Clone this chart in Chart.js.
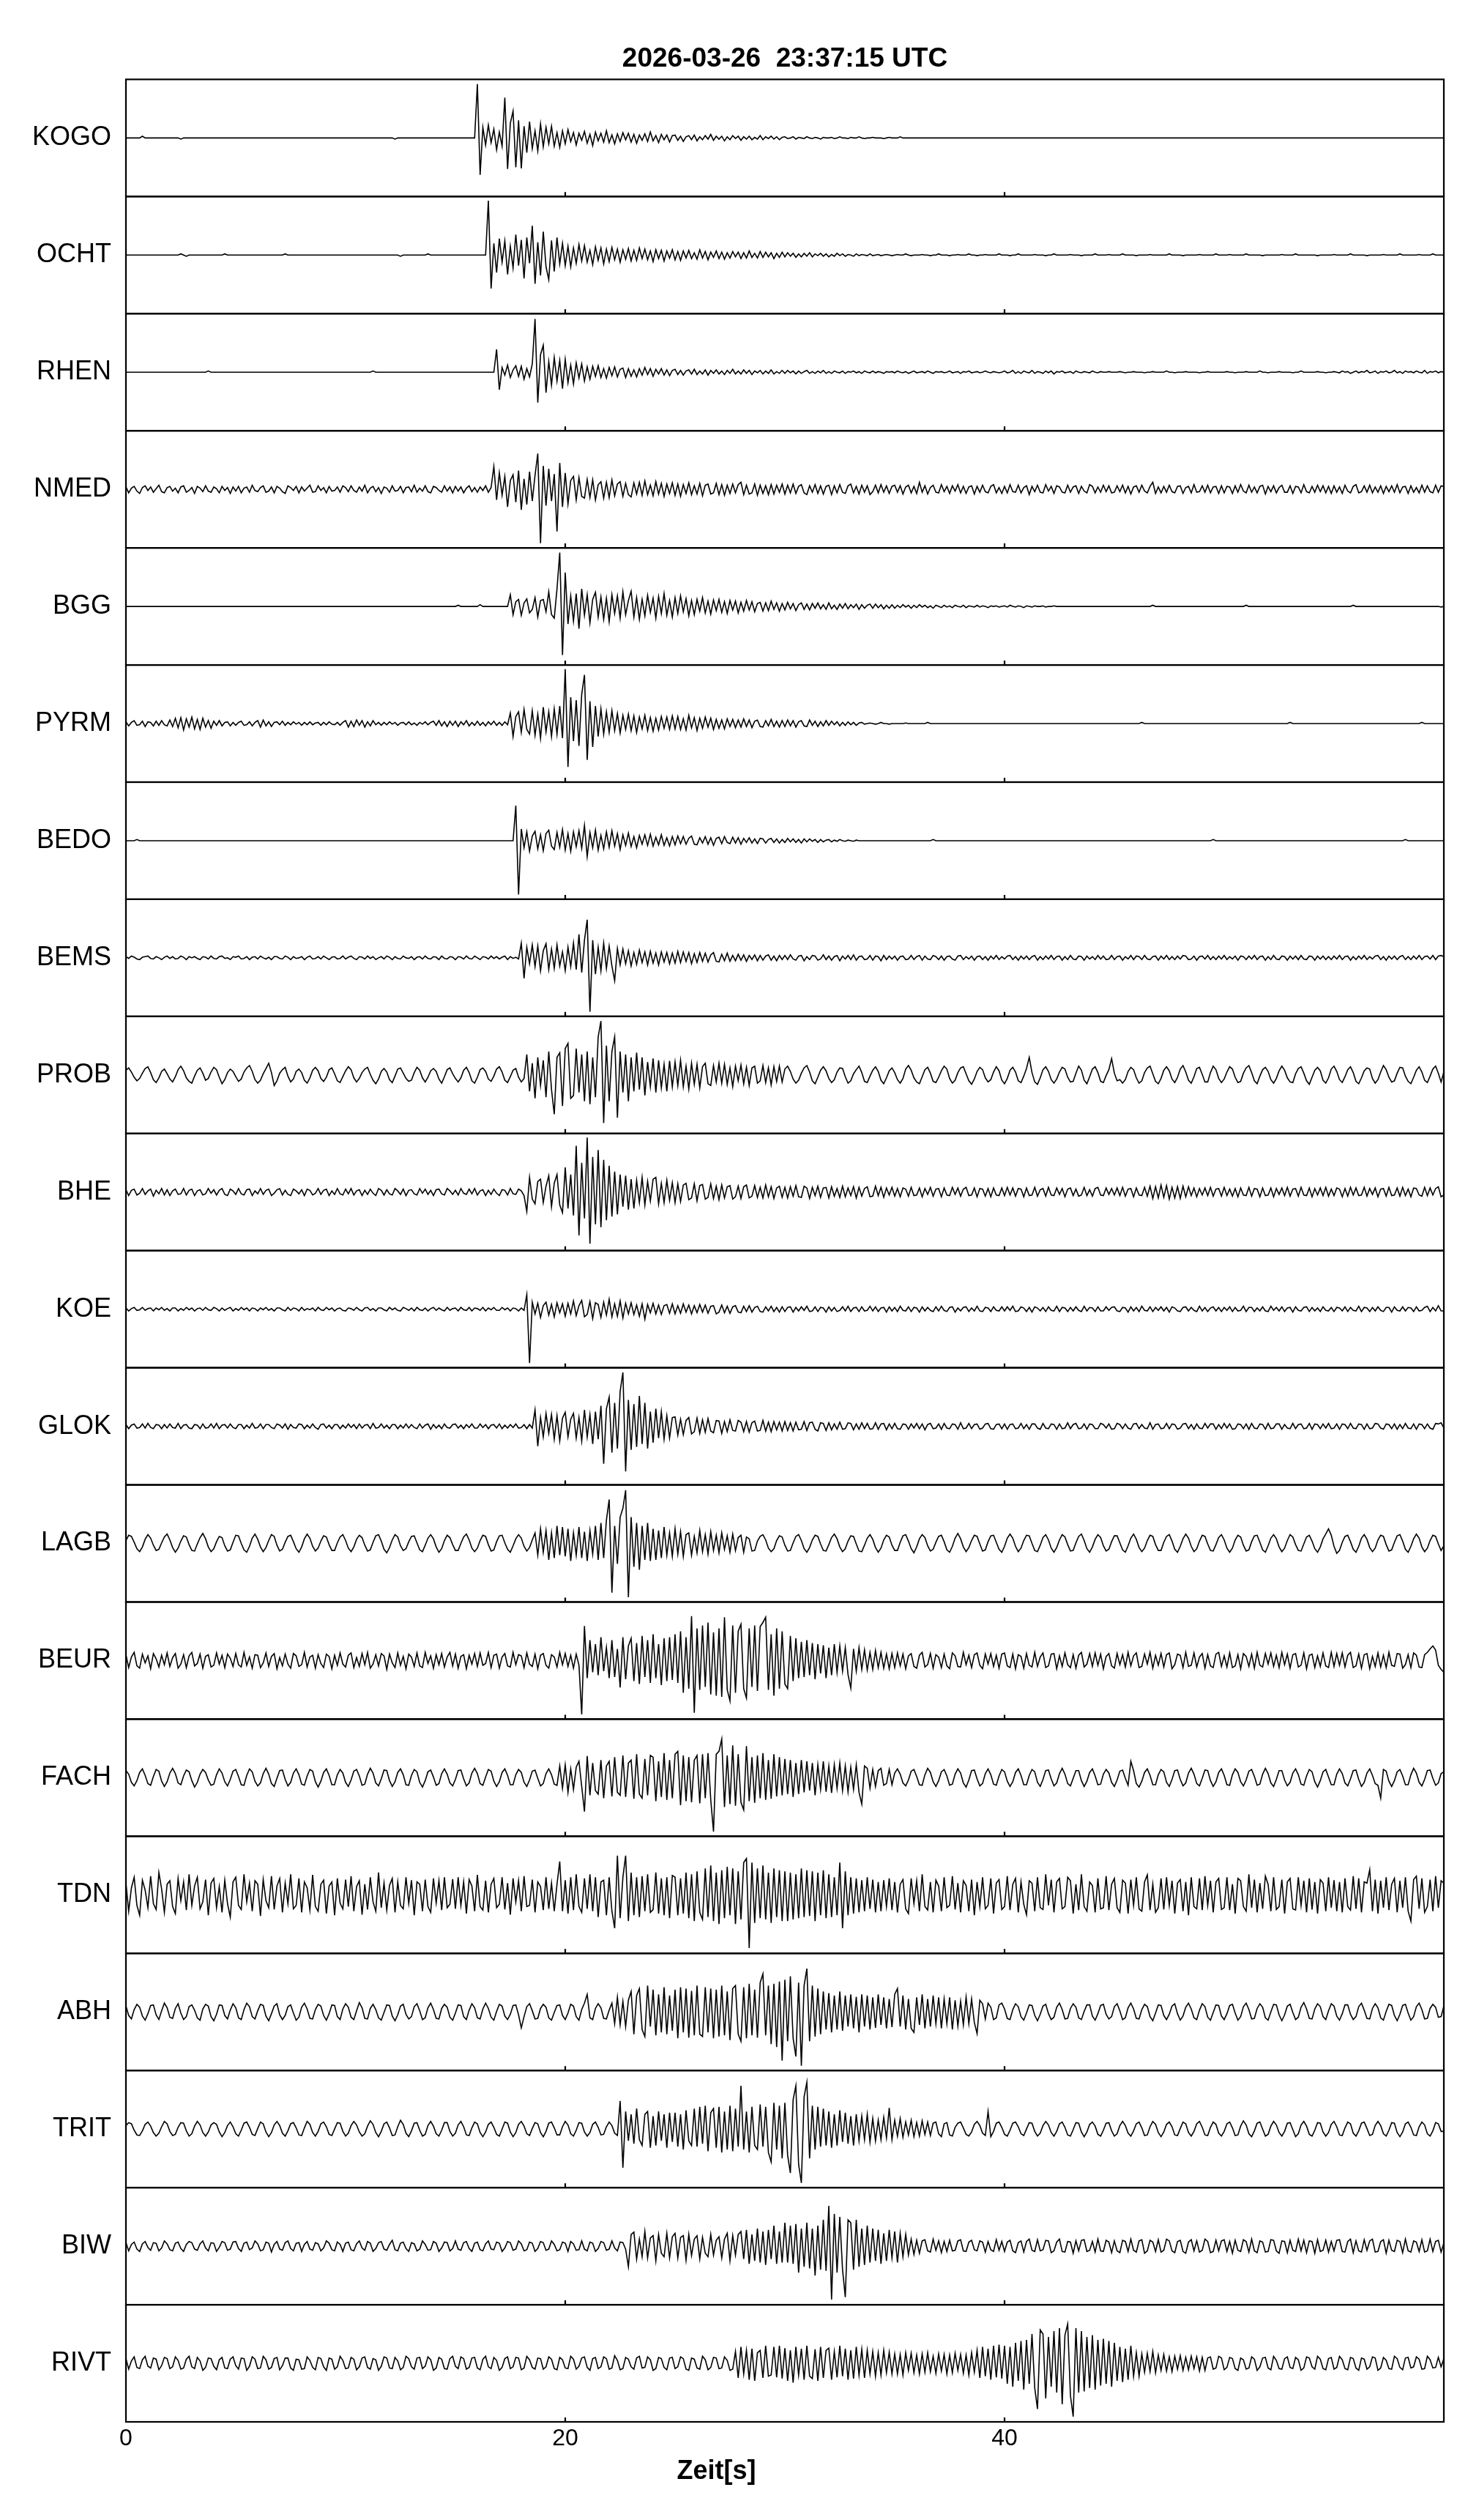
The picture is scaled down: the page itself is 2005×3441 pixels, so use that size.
<!DOCTYPE html>
<html>
<head>
<meta charset="utf-8">
<title>Seismogramm 2026-03-26 23:37:15 UTC</title>
<script src="https://cdn.jsdelivr.net/npm/chart.js@4/dist/chart.umd.min.js"></script>
<style>
  html, body { margin: 0; padding: 0; background: #fff; }
  canvas { display: block; }
</style>
</head>
<body>
<canvas id="seis" width="2005" height="3441"></canvas>
<script>
// Stationen von oben nach unten
var STATIONS = ['KOGO','OCHT','RHEN','NMED','BGG','PYRM','BEDO','BEMS','PROB','BHE',
                'KOE','GLOK','LAGB','BEUR','FACH','TDN','ABH','TRIT','BIW','RIVT'];
var SPAN = 60;            // Sekunden
var X_TICKS = [0, 20, 40];
var TITLE = '2026-03-26  23:37:15 UTC';
var X_LABEL = 'Zeit[s]';

// Amplituden in % der halben Spurhoehe, alle 0.125 s (eine Zeile = 5 s)
var KOGO = [
  0,0,0,0,0,0,3,0, 0,0,0,0,0,0,0,0, 0,0,0,0,-2,0,0,0, 0,0,0,0,0,0,0,0, 0,0,0,0,0,0,0,0,
  0,0,0,0,0,0,0,0, 0,0,0,0,0,0,0,0, 0,0,0,0,0,0,0,0, 0,0,0,0,0,0,0,0, 0,0,0,0,0,0,0,0,
  0,0,0,0,0,0,0,0, 0,0,0,0,0,0,0,0, 0,0,-2,0,0,0,0,0, 0,0,0,0,0,0,0,0, 0,0,0,0,0,0,0,0,
  0,0,0,0,0,0,0,0, 92,-63,18,-12,22,-8,15,-20, 10,-14,69,-53,25,46,-50,30, -52,20,-25,28,-18,12,-22,24, -15,18,-10,20,-14,9,-16,12,
  -10,14,-6,9,-12,8,-4,11, -9,6,-13,10,-5,8,-7,12, -8,5,-10,7,-6,9,-3,8, -7,6,-9,5,-4,7,-6,10, -5,4,-8,6,-3,5,-7,4,
  5,-4,3,-6,2,4,-3,5, -5,2,-3,4,-2,6,-4,3, -2,3,-5,2,-3,4,-1,3, -4,2,-2,3,-3,1,-2,4, -3,2,-1,3,-2,2,-3,1,
  2,-1,0,2,-2,1,0,-1, 2,0,-1,1,0,-2,1,0, 0,1,-1,0,2,0,0,-1, 1,0,0,2,0,-1,0,0, 1,0,0,0,-1,0,1,0,
  0,0,2,0,0,0,0,0, 0,0,0,0,0,0,0,0, 0,0,0,0,0,0,0,0, 0,0,0,0,0,0,0,0, 0,0,0,0,0,0,0,0,
  0,0,0,0,0,0,0,0, 0,0,0,0,0,0,0,0, 0,0,0,0,0,0,0,0, 0,0,0,0,0,0,0,0, 0,0,0,0,0,0,0,0,
  0,0,0,0,0,0,0,0, 0,0,0,0,0,0,0,0, 0,0,0,0,0,0,0,0, 0,0,0,0,0,0,0,0, 0,0,0,0,0,0,0,0,
  0,0,0,0,0,0,0,0, 0,0,0,0,0,0,0,0, 0,0,0,0,0,0,0,0, 0,0,0,0,0,0,0,0, 0,0,0,0,0,0,0,0,
  0,0,0,0,0,0,0,0, 0,0,0,0,0,0,0,0, 0,0,0,0,0,0,0,0, 0,0,0,0,0,0,0,0, 0,0,0,0,0,0,0,0,
  0];
var OCHT = [
  0,0,0,0,0,0,0,0, 0,0,0,0,0,0,0,0, 0,0,0,0,2,0,-2,0, 0,0,0,0,0,0,0,0, 0,0,0,0,2,0,0,0,
  0,0,0,0,0,0,0,0, 0,0,0,0,0,0,0,0, 0,0,2,0,0,0,0,0, 0,0,0,0,0,0,0,0, 0,0,0,0,0,0,0,0,
  0,0,0,0,0,0,0,0, 0,0,0,0,0,0,0,0, 0,0,0,0,-2,0,0,0, 0,0,0,0,0,0,2,0, 0,0,0,0,0,0,0,0,
  0,0,0,0,0,0,0,0, 0,0,0,0,93,-57,20,-30, 28,-12,24,-33,15,-22,35,-18, 26,-40,30,-14,50,-49,22,-35, 40,-20,-42,25,-28,30,-15,20,
  -18,15,-20,12,-14,18,-10,16, -12,8,-16,14,-9,12,-15,10, -11,13,-8,10,-12,9,-7,11, -10,8,-9,12,-6,10,-8,7, -11,9,-6,8,-10,7,-5,9,
  -8,6,-9,7,-5,8,-6,4, -7,9,-5,6,-8,5,-4,7, -6,5,-7,4,-5,6,-3,5, -6,4,-5,7,-4,3,-5,6, -4,5,-3,4,-6,3,-4,5,
  -3,4,-2,3,-4,2,-3,3, -2,4,-3,2,-1,3,-2,2, -3,1,-2,3,-1,2,-2,1, 0,-2,2,-1,1,0,-1,2, -1,0,1,-1,0,1,0,-1,
  0,1,0,0,2,0,-1,0, 0,0,1,0,0,-1,0,0, 2,0,0,0,-1,0,0,1, 0,0,0,2,0,0,-1,0, 0,1,0,0,0,0,2,0,
  0,0,-1,0,0,2,0,0, 0,0,0,1,0,0,0,-1, 0,0,2,0,0,0,0,0, 1,0,0,0,-1,0,0,0, 0,2,0,0,0,0,1,0,
  0,0,0,2,0,0,0,0, -1,0,0,0,0,1,0,0, 0,0,0,0,2,0,0,0, 0,-1,0,0,0,0,0,1, 0,0,0,0,0,2,0,0,
  0,0,1,0,0,0,0,0, 2,0,0,0,0,0,-1,0, 0,0,0,0,0,1,0,0, 0,0,2,0,0,0,0,0, 0,0,-1,0,0,0,0,0,
  1,0,0,0,0,0,2,0, 0,0,0,0,-1,0,0,0, 0,0,1,0,0,0,0,0, 2,0,0,0,0,0,0,1, 0,0,0,0,2,0,0,0,
  0];
var RHEN = [
  0,0,0,0,0,0,0,0, 0,0,0,0,0,0,0,0, 0,0,0,0,0,0,0,0, 0,0,0,0,0,0,2,0, 0,0,0,0,0,0,0,0,
  0,0,0,0,0,0,0,0, 0,0,0,0,0,0,0,0, 0,0,0,0,0,0,0,0, 0,0,0,0,0,0,0,0, 0,0,0,0,0,0,0,0,
  0,0,0,0,0,0,0,0, 0,0,2,0,0,0,0,0, 0,0,0,0,0,0,0,0, 0,0,0,0,0,0,0,0, 0,0,0,0,0,0,0,0,
  0,0,0,0,0,0,0,0, 0,0,0,0,0,0,0,39, -30,8,-5,12,-9,4,11,-7, 10,-12,6,-8,14,91,-52,30, 46,-35,18,-22,25,-15,20,-28,
  22,-18,12,-20,16,-10,14,-15, 9,-12,10,-7,11,-9,6,-10, 8,-6,9,-8,5,7,-9,6, -7,4,-8,6,-5,8,-4,6, -7,5,-3,6,-5,4,-6,3,
  5,-4,3,-5,2,4,-3,5, -4,2,-3,4,-5,3,-2,4, -3,2,-4,3,-2,5,-3,2, -3,4,-2,3,-4,2,-1,3, -3,2,-2,4,-3,1,-2,3,
  -2,3,-1,2,-3,2,-2,1, 3,-2,1,-2,2,-1,3,-2, 1,-2,2,0,-1,2,-2,1, 0,2,-1,1,-2,2,0,-1, 2,-1,1,0,-2,1,0,1,
  -1,2,0,-1,1,-2,0,2, -1,0,1,-1,2,0,-2,1, 0,1,-1,0,2,-1,0,1, -2,1,0,2,-1,0,1,-1, 0,2,0,-1,1,0,-1,0,
  2,-1,0,3,-2,1,-2,2, 0,-1,3,-2,1,0,-2,2, -1,2,-3,1,0,2,-1,0, 1,-2,2,0,-1,1,0,-1, 2,0,-1,1,0,0,1,0,
  0,0,1,0,-1,0,0,1, 0,0,0,-1,0,0,1,0, 0,0,0,2,0,0,-1,0, 0,0,1,0,0,0,0,-1, 0,0,1,0,0,0,0,0,
  0,1,0,0,-1,0,0,0, 1,0,0,0,0,2,0,0, -1,0,0,0,1,0,0,0, 0,-1,0,0,2,0,0,0, 0,0,1,0,0,-1,0,0,
  1,0,-1,2,0,1,-2,0, 2,-1,1,0,3,-1,0,2, -2,1,0,2,-1,0,3,-1, 1,-2,2,0,1,-1,2,0, -1,3,-2,1,0,2,-1,1,
  0];
var NMED = [
  4,-6,2,5,-3,-7,3,6, -2,4,-5,1,7,-4,-6,3, 5,-3,2,-6,4,6,-5,-2, 3,-7,5,2,-4,6,-3,-5, 4,1,-6,5,-2,3,-7,4,
  -3,5,-6,2,4,-5,7,-2, -4,3,6,-5,-3,4,-6,5, 2,-4,-7,6,3,-2,5,-6, 4,-3,2,7,-5,-4,6,-2, 3,-6,5,-3,-2,4,-5,6,
  3,-4,6,-2,-5,4,-3,7, -6,2,5,-4,3,-7,4,2, -5,6,-3,-2,5,-6,3,4, -4,7,-5,2,-3,6,-4,-6, 5,3,-2,-5,6,-3,4,-6,
  5,-3,4,-6,2,6,-4,3, -5,4,-2,6,-5,3,39,-18, 28,-10,22,-30,15,25,-22,32, -35,18,-26,30,-20,24,61,-92, 40,-28,35,-20,26,-72,45,-30,
  28,-25,15,22,-18,20,-12,-15, 17,-14,16,-18,8,13,-15,12, -14,16,-11,9,13,-12,10,-9, -13,11,-8,12,-10,14,-9,7, -11,13,-8,10,-12,9,-7,11,
  -10,9,-12,8,-7,11,-9,6, -8,10,-11,7,9,-8,-6,10, -9,8,-10,7,-7,9,-6,8, 12,-9,7,-8,-6,9,-10,7, -7,6,-9,8,-8,7,-5,9,
  -8,7,-6,9,-7,5,8,-6, -9,6,-5,8,-7,6,-8,5, 7,-9,6,-6,8,-5,-7,6, 9,-6,5,-8,7,-5,6,-9, -4,7,-6,8,-5,6,-7,5,
  7,-5,6,-8,4,7,-6,5, -7,12,-5,6,-8,3,7,-5, -6,8,-4,5,-7,6,-3,8, -6,5,-7,4,6,-8,5,-5, 7,-4,-6,5,8,-6,3,-7,
  5,-6,8,-4,-5,7,-6,3, 6,-9,5,-4,7,-5,-6,8, -3,5,-7,6,4,-5,-6,7, -5,4,6,-7,5,-3,-6,8, 5,-6,4,-5,7,-4,6,-6,
  -5,6,-4,7,-6,5,-8,4, 6,-5,7,-3,-6,5,12,-7, 4,-6,5,-5,7,-4,-6,5, 6,-7,3,5,-6,8,-5,-4, 6,-5,7,-6,4,5,-7,6,
  -6,5,4,-7,6,-5,8,-3, -6,7,-5,4,-6,5,7,-8, 5,-4,6,-6,3,7,-5,-5, 6,-7,5,4,-6,8,-4,-6, 5,-5,7,-4,6,-6,5,-7,
  6,-5,4,-7,7,-3,-6,5, 8,-6,-4,6,-5,7,-6,4, -5,6,-7,5,-4,6,-5,8, -6,4,5,-7,6,-5,3,-6, 7,-5,6,-4,-6,7,-5,6,
  5];
var BGG = [
  0,0,0,0,0,0,0,0, 0,0,0,0,0,0,0,0, 0,0,0,0,0,0,0,0, 0,0,0,0,0,0,0,0, 0,0,0,0,0,0,0,0,
  0,0,0,0,0,0,0,0, 0,0,0,0,0,0,0,0, 0,0,0,0,0,0,0,0, 0,0,0,0,0,0,0,0, 0,0,0,0,0,0,0,0,
  0,0,0,0,0,0,0,0, 0,0,0,0,0,0,0,0, 0,0,0,0,0,0,0,0, 0,0,0,0,0,0,0,0, 0,0,0,0,0,0,0,0,
  0,2,0,0,0,0,0,0, 0,3,0,0,0,0,0,0, 0,0,0,0,20,-14,8,12, -15,6,13,-11,-5,15,-18,10, 12,-9,25,-14,-20,30,92,-83,
  58,-30,18,-25,22,-38,30,-15, 20,-28,12,24,-18,16,-22,14, -26,20,-12,18,-20,25,-14,10, 26,-18,15,-22,12,-16,19,-10, 14,-20,17,-12,22,-15,10,-18,
  15,-12,18,-9,13,-16,10,-14, 12,-8,15,-11,9,-13,11,-7, 12,-10,8,-12,10,-6,9,-11, 7,-8,10,-6,8,-9,5,7, -8,6,-7,9,-5,6,-8,5,
  -6,7,-4,5,-7,3,6,-5, 4,-6,5,-3,6,-4,3,-5, 6,-4,2,-5,4,-3,5,-4, 3,-2,4,-5,3,-3,2,4, -3,4,-2,3,-4,2,-3,3,
  -3,2,-2,3,-1,2,-3,2, -2,3,-1,2,-2,1,-3,2, 0,-2,2,-1,1,-2,2,0, -1,2,-2,1,0,-1,2,-1, 1,0,-2,1,0,1,-1,0,
  1,-1,2,0,-1,1,0,-2, 1,0,-1,1,0,0,1,-1, 0,0,1,0,0,0,0,0, 0,0,0,0,0,0,0,0, 0,0,0,0,0,0,0,0,
  0,0,0,0,0,0,0,0, 0,0,0,0,0,0,2,0, 0,0,0,0,0,0,0,0, 0,0,0,0,0,0,0,0, 0,0,0,0,0,0,0,0,
  0,0,0,0,0,0,0,0, 2,0,0,0,0,0,0,0, 0,0,0,0,0,0,0,0, 0,0,0,0,0,0,0,0, 0,0,0,0,0,0,0,0,
  0,0,0,0,0,0,0,2, 0,0,0,0,0,0,0,0, 0,0,0,0,0,0,0,0, 0,0,0,0,0,0,0,0, 0,0,0,0,0,0,0,-1,
  0];
var PYRM = [
  3,-4,2,5,-3,-2,4,-5, 3,2,-4,4,-3,5,-2,-4, 6,-5,9,-7,10,-11,8,-6, 11,-9,7,-10,9,-6,5,-8, 4,-3,5,-4,2,3,-4,2,
  -3,2,4,-3,-2,3,-4,2, 5,-6,6,-4,3,-5,2,3, -2,4,-3,2,-2,3,-1,2, -3,2,-2,3,-2,1,2,-3, 2,-2,3,-1,-2,2,-3,2,
  5,-6,4,-5,6,-3,5,-6, 3,-4,5,-2,2,-3,2,-2, 3,-1,2,-3,1,2,-2,3, -2,1,-3,2,-1,3,-2,2, 4,-3,5,-4,3,-5,4,-3,
  4,-5,3,-2,5,-4,2,-3, 4,-3,2,-4,3,-2,4,-3, 2,-3,3,-2,18,-22,12,20, -15,24,-10,-18,22,-20,16,-25, 28,-14,20,-22,25,-18,30,-25,
  93,-74,45,-30,40,-38,50,83, -62,38,-40,30,-22,25,-18,20, -15,22,-12,17,-16,14,-10,16, -12,13,-15,11,-9,14,-12,10, -13,9,-11,12,-8,11,-10,13,
  -9,12,-10,8,-11,14,-7,10, -12,9,-8,11,-6,9,-10,7, -8,6,-9,8,-5,7,-7,6, -6,8,-5,6,-7,4,6,-5, -6,5,-4,7,-5,4,-6,5,
  -5,6,-4,5,-6,3,5,-4, -5,6,-3,4,-5,3,-4,5, -3,4,-2,3,-4,2,-3,3, -2,2,-3,1,2,-1,0,1, 0,-1,0,2,0,0,-1,0,
  0,0,0,0,1,0,0,0, 0,0,0,0,2,0,0,0, 0,0,0,0,0,0,0,0, 0,0,0,0,0,0,0,0, 0,0,0,0,0,0,0,0,
  0,0,0,0,0,0,0,0, 0,0,0,0,0,0,0,0, 0,0,0,0,0,0,0,0, 0,0,0,0,0,0,0,0, 0,0,0,0,0,0,0,0,
  0,0,0,0,0,0,0,0, 0,0,2,0,0,0,0,0, 0,0,0,0,0,0,0,0, 0,0,0,0,0,0,0,0, 0,0,0,0,0,0,0,0,
  0,0,0,0,0,0,0,0, 0,0,0,0,0,0,0,0, 0,0,0,0,0,0,0,0, 2,0,0,0,0,0,0,0, 0,0,0,0,0,0,0,0,
  0,0,0,0,0,0,0,0, 0,0,0,0,0,0,0,0, 0,0,0,0,0,0,0,0, 0,0,0,0,0,0,0,0, 2,0,0,0,0,0,0,0,
  0];
var BEDO = [
  0,0,0,0,2,0,0,0, 0,0,0,0,0,0,0,0, 0,0,0,0,0,0,0,0, 0,0,0,0,0,0,0,0, 0,0,0,0,0,0,0,0,
  0,0,0,0,0,0,0,0, 0,0,0,0,0,0,0,0, 0,0,0,0,0,0,0,0, 0,0,0,0,0,0,0,0, 0,0,0,0,0,0,0,0,
  0,0,0,0,0,0,0,0, 0,0,0,0,0,0,0,0, 0,0,0,0,0,0,0,0, 0,0,0,0,0,0,0,0, 0,0,0,0,0,0,0,0,
  0,0,0,0,0,0,0,0, 0,0,0,0,0,0,0,0, 0,0,0,0,0,0,60,-92, 20,-12,15,-18,8,16,-14,10, -17,12,18,-9,-15,14,-11,19,
  -16,12,-18,15,-10,17,-13,26, -27,14,-12,18,-16,9,-14,15, -11,17,-9,12,-15,10,-8,13, -10,7,-12,9,-6,10,-8,11, -9,6,-7,10,-8,5,-9,7,
  -7,8,-5,7,-6,4,8,-6, -7,5,-4,7,-6,5,-8,4, 6,-5,7,-3,-5,6,-4,5, -6,4,-3,5,-4,3,-5,4, 3,-4,2,4,-3,3,-4,2,
  -3,4,-2,3,-3,2,-4,3, -2,3,-1,2,-3,2,-2,1, 2,-2,1,-1,2,0,-1,1, 0,-1,1,0,0,0,0,0, 0,0,0,0,0,0,0,0,
  0,0,0,0,0,0,0,0, 0,0,0,0,0,0,2,0, 0,0,0,0,0,0,0,0, 0,0,0,0,0,0,0,0, 0,0,0,0,0,0,0,0,
  0,0,0,0,0,0,0,0, 0,0,0,0,0,0,0,0, 0,0,0,0,0,0,0,0, 0,0,0,0,0,0,0,0, 0,0,0,0,0,0,0,0,
  0,0,0,0,0,0,0,0, 0,0,0,0,0,0,0,0, 0,0,0,0,0,0,0,0, 0,0,0,0,0,0,0,0, 0,0,0,0,2,0,0,0,
  0,0,0,0,0,0,0,0, 0,0,0,0,0,0,0,0, 0,0,0,0,0,0,0,0, 0,0,0,0,0,0,0,0, 0,0,0,0,0,0,0,0,
  0,0,0,0,0,0,0,0, 0,0,0,0,0,0,0,0, 0,0,0,0,0,0,0,0, 0,0,2,0,0,0,0,0, 0,0,0,0,0,0,0,0,
  0];
var BEMS = [
  2,-1,3,1,-2,-3,1,2, 3,-1,-2,2,0,-3,1,3, -1,2,-2,-1,3,1,-3,2, 0,2,-1,-3,2,1,-2,3, -1,-2,2,3,-1,0,-3,2,
  1,3,-2,-1,2,-3,1,2, -2,3,0,-2,1,-3,2,2, -1,-2,3,1,-3,2,-1,0, 2,-3,1,3,-2,-1,2,-2, 3,0,-3,1,2,-2,-1,3,
  -2,1,3,-1,-3,2,1,-2, 3,-1,2,-3,0,2,-2,3, 1,-3,2,-1,-2,3,0,-1, 2,-3,1,2,-2,3,-1,-2, 2,1,-3,3,-1,-2,2,1,
  -3,2,1,-2,3,-1,-2,3, 0,-3,2,1,-2,3,-1,2, -2,1,3,-3,2,-1,1,-2, 25,-35,18,-10,22,-15,20,-22, 12,24,-20,15,-18,22,-14,10,
  -22,18,-15,25,-20,40,-25,30, 65,-92,30,-28,18,-22,25,-18, 20,-14,-39,16,-12,15,-10,12, -14,9,-11,13,-8,10,-12,11, -9,8,-12,10,-7,9,-10,8,
  -9,11,-8,10,-6,9,-10,7, -8,9,-6,8,-7,5,9,-6, -7,6,-5,8,-6,4,-5,6, -4,5,-6,4,-3,5,-5,4, -4,3,5,-4,3,-5,4,-3,
  4,-3,5,-2,-4,3,4,-5, 2,-3,4,3,-4,-2,5,-3, 3,-4,2,4,-5,3,-2,4, -3,5,-4,2,3,-3,-2,4, -4,3,2,-5,4,-3,3,-2,
  3,-4,2,3,-3,-2,4,-3, 2,4,-4,3,-2,-3,4,2, -3,3,-4,2,3,-2,-4,3, 4,-3,2,-2,3,-4,2,3, -3,2,-4,3,-2,4,-3,2,
  -2,3,4,-3,2,-4,3,-2, 3,-3,2,4,-4,2,-3,3, -2,4,-3,2,3,-4,2,-3, 4,-2,-3,3,2,-4,3,-2, 2,-3,4,-2,3,-3,-2,4,
  -3,2,3,-4,2,-2,4,-3, 3,2,-3,4,-2,-3,2,3, -4,3,-2,4,-3,2,-3,3, -2,4,3,-3,-2,3,-4,2, 3,-2,4,-3,2,-3,3,-2,
  4,-3,2,-2,3,-4,3,2, -3,3,-2,4,-3,2,3,-4, 2,-3,4,-2,-3,3,2,-4, 3,-2,3,-3,4,-2,-3,3, 2,-4,3,-2,3,-3,2,-3,
  3,-2,4,-3,2,3,-4,2, -3,3,-2,4,-3,2,-2,3, 4,-3,2,-4,3,-2,3,-3, 2,4,-3,2,-3,3,-2,4, -3,2,3,-2,4,-3,3,4,
  2];
var PROB = [
  8,12,5,-4,-10,-6,3,11, 14,4,-8,-13,-5,6,10,2, -7,-12,-3,9,15,7,-5,-11, -14,-2,8,12,3,-9,-6,5, 13,9,-4,-15,-8,4,10,6,
  -3,-11,-7,5,12,16,6,-8, -14,-9,2,11,20,4,-18,-10, 3,9,13,-2,-12,-7,6,10, 4,-9,-14,-5,8,13,7,-6, -11,-4,9,12,2,-10,-13,-3,
  7,14,9,-5,-12,-6,4,10, 13,1,-9,-15,-7,6,11,5, -8,-13,-2,10,12,3,-6,-11, -9,4,13,8,-5,-12,-4,7, 11,6,-7,-14,-3,9,12,2,
  -6,-12,-5,8,13,4,-10,-14, -4,9,12,6,-7,-11,-2,10, 14,5,-9,-13,-3,8,11,-4, -12,-6,35,-28,20,-40,30,-18, 25,-38,40,-25,-67,30,38,-53,
  45,54,-40,-35,45,-30,35,-45, 40,-50,30,-38,65,92,-82,50, -45,40,65,-73,40,-30,35,-45, 30,-28,38,-25,30,-35,22,-20, 28,-30,25,-22,18,-28,24,-20,
  22,-18,25,-20,15,-24,20,-16, 18,-22,14,20,-15,-18,16,-12, 20,-14,18,-16,12,-20,15,-10, 17,-15,13,-18,12,15,-14,-10, 16,-13,12,-17,14,-11,15,-12,
  10,15,6,-7,-14,-9,3,12, 16,5,-10,-15,-4,8,14,7, -6,-13,-8,5,12,11,-3,-14, -10,2,9,15,4,-11,-13,-2, 8,14,6,-9,-15,-5,7,12,
  4,-8,-14,-6,10,16,8,-5, -12,-15,-3,9,13,3,-11,-13, -4,7,15,10,-6,-14,-9,4, 12,14,2,-10,-16,-7,6,13, 9,-5,-12,-8,5,14,7,-9,
  -15,-6,8,13,5,-10,-13,-2, 11,30,4,-12,-16,-5,9,14, 6,-8,-14,-7,5,13,10,-4, -12,-11,3,15,8,-9,-15,-3, 10,14,4,-11,-13,-1,9,28,
  3,-10,-8,-14,-8,6,13,9, -5,-14,-10,4,12,15,2,-11, -15,-6,8,14,7,-7,-13,-4, 10,16,5,-9,-14,-3,11,13, 1,-12,-12,4,15,9,-6,-13,
  -7,5,14,10,-4,-13,-11,3, 12,16,4,-10,-15,-2,9,13, 6,-8,-14,-6,7,15,8,-5, -12,-13,2,11,14,3,-10,-16, -4,8,13,7,-9,-14,-5,10,
  15,6,-8,-13,-3,9,14,4, -11,-15,-5,7,12,10,-6,-14, -8,5,16,9,-4,-12,-10,3, 13,12,-2,-11,-15,-4,8,14, 5,-9,-13,-2,10,15,3,-12,
  5];
var BHE = [
  4,-6,3,5,-5,-2,6,-4, 2,5,-7,3,-3,6,-5,4, -6,2,5,-4,-3,6,-5,3, 5,-6,2,4,-5,-3,6,-2, 4,-5,3,6,-4,-6,5,2,
  -4,6,-3,-5,4,5,-6,2, -3,6,-4,3,5,-6,-2,4, 6,-5,3,-4,-6,5,2,-3, 4,-6,5,3,-5,-2,6,-4, 3,5,-6,2,-4,6,-3,-5,
  5,-3,6,-5,2,4,-6,3, -4,5,-2,-6,6,3,-5,4, -3,-5,6,2,-4,5,-6,3, 4,-3,-5,6,-2,5,-4,3, -6,4,5,-3,-5,6,2,-4,
  3,-5,6,-2,-4,5,-3,6, -5,2,4,-6,3,-4,5,-2, -6,4,3,-5,6,-3,-4,5, 2,-6,-33,25,-12,-20,18,22, -18,10,28,-25,15,30,-22,-35,
  42,-28,30,-40,79,-74,50,-45, 93,-88,60,-55,72,-60,55,-48, 45,-42,35,-38,30,-25,28,-30, 22,-28,20,-18,25,-22,18,-15, 22,25,-20,15,-18,20,-14,16,
  -18,14,-16,12,15,-13,-10,14, -15,11,13,-12,-9,14,-11,10, -13,12,-10,9,11,-12,-8,10, -11,9,12,-10,-7,11,-9,8, -10,12,-8,9,-11,7,10,-9,
  8,-10,9,-7,11,-8,-9,10, 7,-11,8,-6,10,-9,7,8, -10,9,-7,6,-9,10,-8,7, -6,9,-10,8,-7,6,9,-8, -7,10,-6,8,-9,7,-5,8,
  -7,6,-8,7,5,-7,8,-6, -5,7,-8,6,-4,8,-7,5, 6,-8,7,-5,-6,8,-4,7, -7,5,8,-6,-5,7,-8,6, 5,-7,6,-8,7,-5,-6,7,
  -6,8,-5,7,-7,6,5,-8, 7,-6,-5,8,-7,4,6,-7, 8,-5,-6,7,-4,6,-8,5, 7,-6,5,-7,-5,8,-6,4, -7,6,8,-5,-6,7,-4,6,
  -5,7,-6,8,-7,5,6,-8, 7,-5,-6,8,-7,10,-11,9, -10,12,-9,11,-12,8,-10,9, -11,10,-8,9,-6,7,-8,6, -5,7,-6,8,-7,5,6,-7,
  8,-6,5,-7,6,-8,7,-5, -6,8,-7,6,5,-8,7,-6, -5,7,-8,6,-4,7,-6,8, -7,5,6,-7,8,-5,-6,7, -8,6,-5,7,-6,8,-7,5,
  -6,7,5,-8,6,-7,8,-5, 7,-6,-5,8,-7,6,-4,7, -8,5,6,-7,8,-6,-5,7, -7,8,-6,5,-8,7,6,-5, -7,8,-6,7,-5,6,9,-8,
  -5];
var KOE = [
  2,-3,1,3,-2,-1,3,-2, 1,2,-3,2,-1,3,-2,1, -3,2,2,-3,1,-2,3,-1, 2,-3,1,2,-2,3,-1,-2, 3,1,-3,2,-2,1,3,-3,
  1,-2,3,-1,2,-3,2,1, -3,2,-1,3,-2,1,-3,2, 2,-1,-3,3,-2,2,1,-3, 3,-2,1,-1,2,-3,3,-1, -2,3,-1,2,-3,1,2,-2,
  -3,2,1,-2,3,-1,-3,2, 3,-2,1,-3,2,2,-1,-3, 3,-1,2,-2,-3,3,1,-2, 2,-3,3,-1,-2,2,-3,1, 3,-2,2,-1,-3,3,-2,1,
  2,-3,3,-1,-2,3,-3,2, 1,-2,3,-3,2,-1,3,-2, -2,3,-1,2,-3,2,1,-3, 2,-2,25,-92,12,-8,10,-14, 6,12,-10,8,-13,11,-6,9,
  -12,10,-8,14,-11,6,15,-13, -9,13,-16,11,8,-14,12,-10, 17,-13,9,-12,14,-15,10,-8, 11,-9,7,-12,9,-17,8,-6, 10,-8,7,-9,6,8,-7,9,
  -8,6,-7,9,-5,7,-8,6, -6,8,-5,7,-7,5,6,-8, -5,7,-6,5,-7,4,6,-5, -6,5,-4,6,-5,3,5,-4, -5,4,-3,5,-4,3,-5,4,
  -4,3,4,-5,3,-3,4,-2, 5,-4,-3,4,-4,3,2,-5, 4,-3,3,-4,-2,4,-3,5, -4,2,3,-4,4,-3,-2,5, -3,4,-4,2,3,-5,4,-3,
  3,-4,5,-2,-3,4,-4,3, 2,-5,4,-3,3,-2,-4,4, -3,5,-2,-4,3,4,-5,2, -3,3,4,-4,2,-3,5,-3, -4,3,2,-4,4,-2,-3,4,
  -3,4,-2,5,-4,-3,4,2, -4,3,-5,4,2,-3,3,-4, 4,-2,-3,5,-4,3,2,-4, 3,-3,4,-2,-4,5,-3,3, 2,-4,4,-3,-3,4,-2,3,
  4,-3,-4,3,2,-5,4,-3, 3,-4,5,-2,-3,4,-4,3, -2,4,-3,3,-5,4,2,-3, -4,3,4,-3,3,-2,-4,5, -3,3,-4,2,4,-3,3,-4,
  3,-2,4,-4,3,-3,-2,5, -4,3,3,-4,2,-3,4,-3, -4,5,-2,3,-3,4,-4,2, 3,-5,4,-2,-3,3,4,-4, 3,-3,2,-4,4,-2,-3,3,
  -4,3,2,-3,4,-4,3,-2, -3,5,-4,3,2,-4,3,-3, 4,-2,-4,3,3,-5,4,-2, -3,4,-3,3,2,-4,4,-3, -2,3,5,-4,3,-3,6,-3,
  -3];
var GLOK = [
  3,-4,2,4,-3,-2,4,-3, 5,-2,-4,3,2,-4,3,-3, 4,-2,-3,5,-4,2,3,-3, -4,3,2,-4,4,-3,-2,4, -3,5,-4,2,3,-3,4,-2,
  -4,3,3,-4,2,-3,5,-3, -2,4,-4,3,3,-2,-4,4, 2,-3,4,-5,3,-2,-3,4, 3,-4,2,-3,4,-2,-5,3, 4,-3,2,-4,3,3,-4,2,
  -3,4,-2,3,-4,4,-3,2, 3,-4,5,-3,-2,4,-3,2, -4,3,3,-4,2,-3,4,-3, 3,-2,-4,4,-3,2,4,-5, 3,-3,2,-4,4,-2,-3,3,
  4,-3,2,-4,3,-2,4,-3, -3,4,-2,3,-4,2,3,-3, 4,-4,2,-3,3,-2,4,-3, -2,3,-4,3,-3,28,-34,15, -18,22,-12,20,-22,18,-25,14,
  24,-18,12,22,-20,15,-25,28, -18,20,-30,25,-22,35,-64,30, 50,-45,40,-38,60,92,-77,45, -40,38,-35,52,-30,40,-38,25, -28,30,-20,25,-22,18,-20,15,
  16,-15,12,-14,10,15,-13,-9, 14,-12,11,-10,13,-8,-11,10, 9,-12,8,-9,11,-7,-8,10, 7,-9,8,-10,6,9,-8,-7, 10,-8,7,-9,8,-6,7,-8,
  8,-7,6,-8,7,-6,-5,8, -7,6,7,-5,-8,6,5,-7, 6,-6,4,-5,7,-5,-4,6, 5,-6,4,-5,6,-4,5,-5, -4,6,-5,4,5,-6,4,-4,
  5,-4,-5,4,3,-5,4,-3, 5,-4,4,-6,3,5,-4,-3, 4,-5,5,-3,-4,4,3,-5, 6,-4,-3,5,-4,3,4,-5, -3,4,5,-4,-5,3,4,-4,
  4,-5,3,4,-4,-3,5,-4, 3,-5,4,4,-3,-5,5,-3, -4,4,3,-5,4,-4,-3,6, -4,3,5,-4,-3,4,-5,4, 3,-4,-4,5,3,-3,4,-5,
  -4,5,3,-4,4,-3,-5,4, 5,-4,3,-3,-4,6,-5,3, 4,-4,-3,5,-4,4,3,-5, -3,4,5,-4,3,-5,4,-3, -4,5,-3,4,4,-5,3,-4,
  5,-3,4,-5,-4,4,3,-4, 4,-5,5,-3,-4,4,3,-5, 5,-4,-3,4,4,-5,3,-3, -4,5,-4,3,4,-4,-3,5, -5,4,3,-4,4,-3,5,-4,
  -3,4,-5,4,3,-4,5,-3, -4,4,3,-5,4,-4,-3,5, 4,-3,-5,4,3,-4,4,-5, 3,-4,5,-3,-4,4,-5,4, 3,-4,4,-3,-5,5,4,6,
  -3];
var LAGB = [
  5,14,12,2,-9,-14,-6,7, 15,9,-3,-12,-10,1,11,16, 6,-7,-15,-8,4,13,11,-2, -12,-13,-1,10,17,8,-6,-14, -9,3,12,10,-4,-13,-11,2,
  14,13,0,-11,-15,-5,9,16, 7,-6,-14,-7,5,15,12,-3, -13,-10,2,12,14,3,-9,-15, -6,8,16,9,-5,-13,-8,4, 13,11,-2,-12,-12,1,11,15,
  5,-8,-14,-6,7,14,10,-3, -13,-11,2,13,15,4,-10,-16, -7,6,15,11,-4,-12,-9,3, 12,13,1,-11,-14,-3,9,15, 8,-6,-15,-9,5,14,10,-2,
  -12,-12,0,11,16,6,-8,-14, -8,5,14,12,-2,-13,-11,3, 13,14,1,-10,-15,-4,8,15, 9,-5,-13,-7,6,18,-20,25, -15,22,-28,18,-25,30,-20,28,
  -22,25,-30,18,-20,28,-25,20, -30,22,-18,30,-28,35,-25,40, 75,-84,30,-35,45,60,91,-92, 45,-40,35,-45,30,-28,35,-30, 25,-28,22,-25,28,-20,18,-22,
  25,-18,20,-22,15,18,-20,12, -16,22,-14,15,-18,20,-12,14, -16,18,-10,13,-15,16,-12,10, 14,-15,11,8,-13,-12,4,12, 15,6,-8,-14,-9,5,13,11,
  -3,-13,-12,1,12,15,5,-9, -15,-7,6,14,12,-1,-12,-13, -2,10,16,8,-6,-14,-9,4, 13,12,-1,-13,-14,-3,9,15, 7,-7,-15,-8,6,14,11,-3,
  -12,-12,2,13,15,4,-9,-16, -6,8,15,10,-4,-13,-10,2, 12,14,3,-11,-15,-5,9,17, 8,-6,-14,-7,5,14,12,-1, -13,-11,3,13,14,2,-10,-15,
  -5,9,16,9,-5,-14,-8,5, 14,13,0,-12,-14,-3,10,15, 6,-8,-15,-7,6,15,11,-2, -13,-12,1,12,16,5,-9,-15, -6,7,15,10,-4,-13,-10,3,
  13,13,1,-11,-15,-4,9,16, 7,-7,-14,-8,5,14,12,-2, -12,-12,2,12,15,4,-10,-15, -5,8,16,9,-5,-14,-9,4, 14,12,-1,-12,-13,-2,10,15,
  6,-8,-15,-8,6,14,11,-3, -13,-11,3,13,14,2,-11,-15, -4,9,15,8,-6,-14,-8,5, 15,11,-2,-12,-13,-1,11,14, 4,-9,-15,-6,8,16,25,14,
  -5,-17,-12,2,12,14,3,-10, -15,-5,9,15,7,-7,-14,-8, 6,14,12,-2,-13,-11,2,13, 15,4,-10,-15,-5,8,16,9, -6,-14,-8,5,14,12,-1,-12,
  -4];
var BEUR = [
  10,-12,6,14,-9,-13,11,-4, 8,-14,12,3,-11,9,-7,13, -10,5,12,-13,-6,10,-12,8, 14,-9,-5,11,-13,7,10,-11, -8,13,-6,9,-12,11,4,-10,
  12,-7,-11,14,-8,6,-13,10, 9,-12,-4,13,-10,7,12,-14, 5,-9,11,-6,-13,12,8,-10, -7,14,-11,6,9,-13,10,-5, -12,11,7,-14,9,-8,13,-6,
  -11,9,13,-12,5,-10,12,-7, 14,-13,-6,10,-9,12,8,-15, 11,-4,-12,13,-8,7,-14,11, 6,-10,13,-9,-12,14,-5,8, -13,10,-7,12,-11,6,14,-9,
  11,-13,7,10,-14,9,-6,12, -10,13,-8,-5,14,-12,9,11, -13,6,12,-9,-11,14,-7,10, 8,-12,13,-6,-10,11,-14,9, 12,-8,-13,10,6,-11,14,-7,
  12,-10,9,-13,11,-8,-92,59, -30,35,-20,28,-25,40,-18,22, -30,35,-28,20,-46,40,-32,25, 38,-35,30,-40,42,-28,35,-38, 45,-30,28,-42,38,-35,40,-33,
  45,-38,50,-55,40,-48,76,-89, 55,-50,60,-45,65,-58,48,-60, 55,-62,74,-50,-69,60,-55,50, 62,-48,-64,55,-45,60,-52,58, 65,74,-50,45,-60,55,-48,50,
  -40,-48,42,-35,38,-30,32,-28, 35,-25,30,-32,28,-22,26,-30, 22,-25,28,-20,25,-18,22,-24, -47,20,-18,22,-15,18,-16,14, -15,17,-12,14,-13,11,-14,12,
  -12,13,-9,11,-14,8,12,-10, -13,9,14,-11,-7,12,-13,10, 6,-12,11,-9,-14,13,8,-10, -11,14,-7,9,-12,10,13,-8, -14,11,-6,12,-10,9,-13,11,
  13,-9,-12,11,-14,10,7,-13, 12,-8,-11,14,-10,6,13,-12, -9,11,12,-14,8,-10,13,-7, -12,10,-13,9,14,-11,-6,12, -10,13,-8,11,-14,7,12,-9,
  -13,12,-7,10,-11,14,-9,8, 13,-12,-10,11,-6,14,-13,9, -8,12,-11,10,13,-14,-7,11, 9,-12,14,-10,-8,13,-11,6, 12,-13,10,-9,-12,11,14,-10,
  8,-11,13,-12,-9,10,-14,12, 7,-10,11,-13,14,-8,-11,12, -6,13,-10,9,-12,14,-7,11, -13,10,12,-11,-8,13,-14,9, 11,-12,8,-10,13,-9,-12,14,
  -10,12,-8,13,-11,9,14,-12, -9,11,-13,10,12,-14,7,-10, 13,-11,9,-12,14,-8,-10,12, 11,-13,-7,10,-12,13,9,-11, -12,10,14,20,25,18,-8,-15,
  -20];
var FACH = [
  12,6,-8,-14,-5,9,15,4, -10,-13,2,14,11,-6,-15,-7, 8,16,7,-9,-12,3,13,10, -5,-16,-8,6,14,9,-4,-13, -11,5,15,8,-7,-14,-3,11,
  14,2,-12,-13,4,15,10,-6, -14,-9,7,16,6,-10,-15,-1, 12,13,-3,-14,-8,8,15,5, -11,-13,3,14,11,-7,-16,-6, 9,15,4,-12,-12,5,14,8,
  -8,-15,-4,11,14,3,-13,-11, 6,16,8,-9,-14,-2,13,12, -5,-15,-7,9,15,5,-12,-13, 4,14,10,-8,-16,-5,10,13, 1,-13,-10,7,15,6,-9,-14,
  -3,12,13,-2,-14,-9,8,16, 7,-10,-13,1,14,11,-6,-15, -7,9,15,4,-12,-12,5,14, 9,-8,-15,-4,11,13,-1,-14, -10,7,15,5,-11,-13,20,-18,
  22,-25,15,-20,18,28,-15,-58, 37,-30,25,-22,-28,30,-35,20, 28,-32,35,-25,-30,38,-33,25, 30,-36,40,-28,-35,32,-30,38, 35,-40,28,-33,42,-38,30,-35,
  40,45,-47,38,-40,35,-42,30, 38,-44,40,-35,42,-38,-92,40, 45,66,-50,38,-45,55,-48,40, -42,-55,54,-40,35,-43,38,-35, 42,-38,30,-36,40,-32,35,-30,
  32,-28,30,-33,25,-28,30,-25, 28,-22,25,-30,22,-20,28,-24, 20,-26,22,-18,25,-22,20,-24, 18,-20,22,-25,-45,20,16,-18, 14,-15,12,16,-13,-10,14,-12,
  8,15,6,-9,-14,-4,11,14, 2,-12,-13,5,16,9,-7,-15, -5,10,14,3,-13,-11,6,15, 8,-9,-16,-4,12,13,-2,-14, -10,7,15,5,-11,-13,3,14,
  10,-6,-15,-7,9,15,4,-12, -12,4,14,10,-8,-15,-3,12, 13,-2,-14,-9,7,16,6,-10, -14,-1,12,12,-5,-15,-6,9, 15,3,-12,-11,6,14,8,-8,
  -15,-4,11,13,-1,-13,28,12, -10,-16,-6,9,15,4,-12,-12, 5,14,10,-8,-15,-3,12,13, -3,-14,-9,8,16,6,-10,-14, -1,13,12,-5,-15,-7,9,15,
  4,-12,-13,5,15,9,-7,-14, -4,11,14,2,-13,-11,6,16, 7,-9,-15,-3,12,12,-4,-14, -8,8,15,5,-11,-13,3,14, 10,-7,-16,-5,10,14,1,-12,
  -12,6,15,7,-9,-14,-2,12, 13,-3,-15,-8,8,15,4,-10, -13,-35,14,11,-6,-15,-5,10, 14,3,-12,-12,5,16,8,-8, -14,-3,12,13,-1,-13,-9,7,
  10];
var TDN = [
  20,-28,12,30,-18,-35,25,8, -22,32,-15,-25,38,10,-30,18, 24,-20,-32,28,-10,22,-26,35, -18,15,30,-24,-12,26,-35,20, 28,-22,14,-30,25,-15,-38,22,
  30,-18,-25,35,-12,20,-28,24, 18,-36,26,-10,-22,32,-25,15, 28,-30,20,-15,35,-24,-18,28, -30,22,12,-26,34,-20,-28,18, 25,-32,15,22,-35,28,-14,-24,
  26,-20,32,-28,14,24,-34,18, -25,30,-12,-28,38,-22,20,-26, 16,28,-30,22,-18,-24,30,-15, 25,-35,22,18,-28,26,-20,-30, 28,-14,24,-26,30,-22,-16,27,
  -24,30,-18,22,-32,26,15,-28, 34,-20,-26,24,-30,18,28,-22, -16,30,-25,20,-34,28,-12,24, -28,32,-20,-18,26,-30,22,14, -26,30,-24,20,-28,18,57,-28,
  25,-32,30,-26,35,-20,-30,28, -24,35,-28,30,-38,22,25,-35, 30,-28,-57,67,-40,30,67,-45, 38,-35,30,-38,32,-28,35,-30, -25,38,-32,28,-35,30,-40,33,
  30,-35,28,-32,38,-40,35,-45, 40,-30,-42,45,-38,50,-45,38, -50,42,-40,48,-35,45,-50,40, -42,55,62,-91,55,-48,45,-40, 50,-42,38,-48,45,-38,42,-45,
  40,-45,38,-42,35,-40,45,-38, 42,-36,40,-45,38,-35,42,-40, 35,-38,30,-35,55,-57,40,-35, 30,-32,28,-30,25,-28,30,-24, 26,-30,22,-28,25,-20,28,-26,
  22,-30,18,26,-24,-32,28,-15, 24,-28,35,-20,-26,22,-30,25, 15,-28,30,-22,-18,32,-25,20, -30,24,16,-28,26,-35,22,-20, 30,-24,-18,28,-32,20,26,-25,
  -20,32,-26,18,28,-30,22,-16, -34,24,20,-28,30,-22,-25,35, -18,26,-30,22,28,-24,-20,30, 24,-32,18,-26,35,-20,-28,22, 16,-30,28,-24,-22,32,-26,18,
  28,-22,-30,25,20,-32,26,-18, 30,-24,-28,22,34,-26,18,-30, -22,28,-25,30,-18,24,-32,20, 26,-28,22,-35,30,-20,-24,28, -26,32,-18,24,-30,22,28,-25,
  -22,30,-26,18,-32,28,24,-20, -28,35,-22,26,-30,20,-24,32, 18,-28,30,-25,-20,26,-32,22, 28,-24,-26,30,-18,24,-30,28, -25,22,-32,26,20,-28,30,-22,
  25,-28,22,-30,28,-20,-26,32, -24,28,-30,22,20,43,-28,26, -32,24,-22,30,-26,18,28,-30, 24,-22,30,-28,-45,26,32,-24, 28,-30,-20,26,-28,32,-22,24,
  20];
var ABH = [
  10,-6,-12,4,13,8,-7,-14, -3,11,12,-5,-13,2,15,7, -9,-11,6,14,-2,-13,-8,9, 12,3,-10,-14,5,13,10,-8, -15,-4,12,11,-6,-12,3,14,
  7,-10,-13,4,15,9,-8,-12, 2,13,11,-7,-15,-3,10,14, -5,-13,-6,9,12,-2,-14,-9, 8,15,5,-11,-12,4,13,10, -6,-14,-3,12,11,-8,-13,5,
  14,8,-9,-13,2,16,7,-11, -12,6,13,4,-10,-14,-1,12, 11,-7,-15,-5,10,13,-4,-12, -8,9,14,2,-13,-10,7,15, 4,-11,-12,6,13,8,-9,-14,
  -2,12,11,-8,-13,3,14,7, -10,-12,5,15,6,-9,-14,1, 13,10,-7,-13,-4,11,12,-5, -27,-8,9,14,2,-12,-11,6, 13,8,-10,-14,-1,11,12,-6,
  -13,-2,13,10,-8,-14,4,15, 30,-10,-13,6,14,7,-11,-12, 3,15,-20,25,-22,18,-25,20, 35,-38,28,40,-30,-42,45,-25, 38,-40,30,-35,42,-38,28,-32,
  38,-45,42,-35,40,-44,36,-40, 45,-38,-42,42,-35,40,-45,38, -42,45,-40,35,-48,40,45,-38, -50,42,-45,48,-40,38,-44,50, 65,-40,45,-55,48,-60,52,-83,
  55,-50,61,-45,-76,50,-92,45, 74,-50,45,-42,40,-38,35,-30, 32,-35,28,-30,35,-32,28,-25, 30,-28,26,-35,30,-25,28,-30, 25,-27,30,-22,25,-28,22,-26,
  30,40,-25,28,-30,22,-28,-35, 25,-22,30,-28,22,-25,28,-20, 25,-28,22,-20,25,-30,20,-24, 18,-22,25,-20,22,-18,-37,20, 14,-12,15,8,-13,-10,12,15,
  5,-11,-13,4,14,9,-8,-14, -2,12,11,-6,-15,-4,10,13, -3,-13,-9,8,15,4,-12,-11, 6,14,8,-10,-13,1,12,12, -7,-14,-3,11,13,-4,-12,-8,
  9,14,2,-13,-10,7,15,5, -11,-12,4,13,9,-8,-15,-2, 12,11,-6,-13,-4,10,14,-3, -14,-7,8,15,5,-10,-13,3, 14,9,-9,-14,-1,12,11,-7,
  -13,-3,11,13,-2,-14,-8,9, 15,4,-12,-11,6,14,8,-10, -14,0,13,12,-5,-15,-5,10, 13,-1,-13,-9,8,16,5,-11, -12,5,14,9,-8,-13,2,14,
  10,-7,-14,-3,12,12,-4,-13, -8,9,15,3,-11,-12,6,14, 7,-10,-14,1,13,11,-6,-15, -4,11,13,-2,-14,-8,9,15, 4,-12,-11,6,13,8,-9,-8,
  10];
var TRIT = [
  6,11,9,-2,-10,-11,-3,8, 12,5,-6,-12,-7,4,13,9, -4,-11,-9,3,11,10,-3,-12, -8,5,13,7,-6,-12,-5,7, 11,8,-5,-13,-6,6,12,4,
  -8,-12,-2,10,12,3,-9,-11, 1,12,9,-5,-13,-6,7,13, 6,-7,-12,-3,9,11,2,-10, -11,2,13,8,-6,-12,-4,9, 12,4,-9,-11,0,11,10,-4,
  -12,-7,6,13,7,-5,-12,-8, 5,14,8,-6,-13,-4,9,12, 2,-11,-10,4,15,8,-7,-13, -3,10,11,-2,-12,-9,6,13, 5,-8,-12,-2,11,11,-4,-12,
  -7,7,13,4,-10,-11,2,12, 9,-6,-13,-5,8,12,3,-9, -12,0,12,10,-5,-13,-6,8, 13,5,-8,-11,1,11,9,-6, -13,-4,10,12,2,-10,-10,4,
  13,7,-8,-12,-2,11,10,-5, -12,-6,8,12,3,-10,-9,4, 12,6,-7,-11,48,-66,30,-20, 25,-25,35,-18,-28,25,30,-32, 22,-28,30,-20,25,-32,28,-22,
  28,-30,25,-35,32,-20,-28,35, -30,38,-25,40,-38,28,35,-32, 38,-40,30,-35,40,-38,35,-30, 74,-35,30,-40,38,-28,-35,42, -30,38,-40,-56,45,-35,40,-50,
  45,-45,-75,50,74,-60,-92,55, 80,-50,40,-35,38,-30,35,-28, 30,-32,25,-28,32,-22,28,-25, 22,-28,25,-20,22,-18,25,-22, 18,-20,15,-18,20,-15,36,-18,
  15,-12,18,-14,12,-10,15,-13, 11,-12,14,-9,12,-11,10,12, -8,-13,9,11,-10,-12,3,10, 12,2,-9,-12,-5,8,13,6, -7,-11,30,-13,-4,10,12,3,
  -9,-12,-2,10,12,4,-8,-11, 0,11,10,-4,-12,-7,6,13, 7,-6,-12,-4,9,12,3,-10, -12,-1,11,10,-5,-13,-5,8, 12,5,-9,-12,-2,10,11,-3,
  -12,-8,6,13,6,-7,-12,-3, 9,12,2,-11,-10,4,13,8, -6,-13,-5,8,12,4,-10,-11, 1,12,9,-6,-12,-4,9,13, 3,-10,-11,3,12,8,-7,-12,
  -4,9,12,2,-11,-10,5,14, 7,-8,-13,-3,10,12,0,-12, -9,5,13,7,-6,-12,-4,10, 11,-1,-13,-8,7,13,5,-9, -12,-2,11,10,-5,-12,-6,8,
  13,4,-10,-11,2,12,9,-7, -12,-3,10,12,1,-11,-9,6, 13,6,-8,-12,-2,11,10,-6, -13,-5,9,12,3,-10,-11,4, 12,7,-8,-12,-3,11,9,-4,
  -4];
var BIW = [
  6,-8,3,7,-5,-9,4,8, -2,-7,6,5,-8,-3,9,4, -6,-8,5,7,-4,-9,3,8, 6,-5,-7,4,9,-3,-8,6, 5,-9,-2,8,6,-7,-5,7,
  8,-4,-9,5,7,-6,-3,9, 4,-8,-6,7,5,-10,3,8, -5,-7,6,9,-4,-8,5,6, -9,3,8,-5,-7,6,4,-8, -3,9,5,-6,-8,7,3,-9,
  5,7,-6,-8,4,9,-3,-7, 8,5,-9,-4,6,8,-5,-7, 3,10,-6,-8,5,7,-4,-9, 6,4,-8,-5,9,3,-7,-6, 8,5,-9,-3,7,6,-8,-4,
  9,-5,-7,6,8,-4,-9,5, 7,-6,-8,4,9,-5,-6,7, 5,-9,-3,8,6,-7,-5,9, 4,-8,-6,7,5,-9,-4,8, 6,-7,-5,9,3,-8,-6,7,
  5,-9,8,4,-7,-6,9,-5, -8,7,5,-9,-4,8,6,-7, -5,9,-3,-8,7,6,-5,-35, 20,24,-22,12,-18,25,-20,14, 18,-25,20,-12,-18,22,-20,16,
  22,-20,15,18,-24,20,-16,12, 18,-22,15,-12,-18,20,-15,10, 16,-20,12,22,-25,18,-15,20, 25,-22,28,-30,20,-25,30,-28, 25,-32,28,-22,35,-30,25,-28,
  40,-28,35,-30,38,-45,30,-35, 40,-38,30,-50,35,-40,45,-42, 69,-91,55,-45,50,-40,-87,45, 40,-40,45,-35,30,-32,35,-28, 30,-25,28,-30,22,-25,28,-20,
  25,-28,22,-18,20,-15,12,-14, 10,-12,9,11,-8,-10,12,-7, 9,-11,8,-9,10,-8,-7,9, 11,-8,-9,7,10,-6,-8,9, 7,-10,8,-6,-9,11,-7,8,
  -9,7,10,-8,-11,6,9,-10, 8,12,-7,-9,11,-8,-6,10, 9,-11,-8,7,12,-9,-10,8, 7,-12,9,-8,10,11,-9,-7, 8,-10,12,-8,-9,10,7,-11,
  9,-8,-11,10,8,-9,12,-7, -10,9,11,-12,-8,10,7,-9, 11,-10,-7,12,9,-8,-11,8, 10,-9,-12,7,11,-8,9,-10, -7,12,8,-11,-9,10,-8,9,
  11,-9,8,-12,10,-7,-9,11, 8,-10,12,-8,-11,9,7,-10, -9,11,10,-8,-12,9,8,-11, 10,-7,-9,12,-8,10,-11,9, 8,-12,11,-9,-7,10,-10,8,
  -8,10,11,-9,-10,8,12,-11, 9,-8,-10,11,-7,9,12,-10, -9,8,11,-12,10,-7,-9,10, 8,-11,12,-8,-10,9,7,-9, 11,-10,-8,12,-9,8,10,-10,
  5];
var RIVT = [
  8,-10,4,11,-7,-9,6,12, -5,-8,9,7,-11,-4,10,8, -9,-6,11,5,-10,-8,7,12, -6,-9,10,4,-12,-7,9,8, -5,-11,6,10,-8,-9,7,11,
  -4,-10,9,8,-12,-5,11,7, -9,-8,12,6,-10,-7,8,10, -11,-4,9,9,-8,-12,7,6, -10,-9,11,5,-7,-11,10,8, -6,-12,9,7,-10,-6,12,5,
  -9,-8,10,7,-11,-6,9,11, -7,-10,8,6,-12,-5,11,9, -8,-9,10,4,-11,-7,12,8, -6,-10,9,10,-9,-5,11,6, -12,-8,10,7,-9,-10,8,12,
  -5,-9,11,8,-10,-7,9,10, -8,-11,7,12,-6,-9,10,5, -12,-7,8,11,-9,-6,10,9, -11,-8,12,6,-7,-10,9,8, -10,-6,11,7,-9,-11,10,6,
  -8,-9,12,7,-10,-5,9,11, -7,-12,8,10,-9,-6,11,8, -10,-8,13,5,-11,-9,10,7, -6,-10,9,12,-8,-7,11,6, -12,-9,10,8,-7,-11,9,10,
  -9,-6,11,8,-10,-12,9,7, -8,-10,12,6,-11,-7,10,9, -9,-8,11,5,-12,-10,20,-25, 28,-18,22,-28,25,-30,18,22, -25,30,-22,-20,28,-24,30,-26,
  26,-30,22,-33,28,-20,25,-28, 30,-22,-26,24,-30,28,-25,22, 26,-28,20,-24,30,-22,25,-28, 22,-26,28,-20,24,-25,22,-18, 20,-22,18,-20,22,-16,19,-18,
  16,-18,15,-20,18,-12,17,-16, 14,-18,16,-15,18,-14,12,-17, 16,-13,15,-18,14,-16,17,-12, 15,-17,14,-20,18,-15,22,-25, 28,-22,25,-28,30,-24,32,-26,
  30,-35,28,-40,35,-30,38,-45, 40,-35,50,-42,-78,57,50,-60, 45,-40,55,-50,60,-70,48,67, -55,-91,60,-50,55,-48,45,-42, 48,-45,40,-38,42,-35,38,-40,
  35,-30,28,-32,25,-28,30,-22, 18,-22,16,-15,17,-14,20,-16, 14,-12,15,-13,11,-14,12,-10, 13,-12,10,-11,12,-9,11,-13, 10,-12,9,11,-10,-8,12,9,
  -11,-7,10,8,-9,-12,9,6, -10,-8,11,7,-12,-6,9,10, -8,-11,12,5,-9,-10,8,11, -7,-9,10,6,-12,-8,11,9, -6,-10,12,7,-9,-11,8,10,
  -10,-7,12,6,-9,-11,10,8, -8,-12,9,7,-10,-6,11,9, -12,-8,10,5,-9,-10,12,8, -7,-11,9,10,-8,-6,11,7, -10,-9,12,6,-8,-7,10,-6,
  8];

var TRACES = [KOGO, OCHT, RHEN, NMED, BGG, PYRM, BEDO, BEMS, PROB, BHE,
              KOE, GLOK, LAGB, BEUR, FACH, TDN, ABH, TRIT, BIW, RIVT];

var FONT = "'Liberation Sans', Arial, Helvetica, sans-serif";
Chart.defaults.font.family = FONT;
Chart.defaults.color = '#000';

function toPoints(values) {
  var step = SPAN / (values.length - 1);
  return values.map(function (v, k) { return { x: k * step, y: v }; });
}

var datasets = STATIONS.map(function (name, i) {
  return {
    label: name,
    data: toPoints(TRACES[i]),
    yAxisID: 'y' + i,
    borderColor: '#000',
    borderWidth: 1.6,
    pointRadius: 0,
    tension: 0,
    fill: false
  };
});

var scales = {
  x: {
    type: 'linear', position: 'bottom', min: 0, max: SPAN,
    grid: { display: false, drawTicks: false },
    border: { display: false },
    ticks: {
      stepSize: 20, autoSkip: false, maxRotation: 0, padding: 4,
      font: { size: 32 },
      callback: function (v) { return X_TICKS.indexOf(v) >= 0 ? String(v) : ''; }
    },
    afterFit: function (s) { s.height = 134; }
  }
};

// zuletzt angelegte Achse landet im Stapel oben
for (var i = STATIONS.length - 1; i >= 0; i--) {
  scales['y' + i] = {
    type: 'linear', position: 'left', stack: 'spuren', stackWeight: 1, offset: false,
    min: -100, max: 100,
    grid: { display: false, drawTicks: false },
    border: { display: false },
    afterBuildTicks: function (s) { s.ticks = [{ value: 0 }]; },
    ticks: {
      padding: 20,
      font: { size: 36 },
      callback: function () { return STATIONS[+this.id.slice(1)]; }
    },
    afterFit: function (s) { s.width = 172; }
  };
}

// Rahmen je Spur, kleine Striche bei 20/40, Achsenbeschriftung
var panelFrame = {
  id: 'panelFrame',
  afterDraw: function (chart) {
    var ctx = chart.ctx, area = chart.chartArea, xs = chart.scales.x;
    ctx.save();
    ctx.strokeStyle = '#000';
    ctx.lineWidth = 2.2;
    STATIONS.forEach(function (name, i) {
      var ys = chart.scales['y' + i];
      ctx.strokeRect(area.left, ys.top, area.right - area.left, ys.bottom - ys.top);
      ctx.beginPath();
      X_TICKS.forEach(function (v) {
        if (v <= xs.min) return;
        var px = xs.getPixelForValue(v);
        ctx.moveTo(px, ys.bottom);
        ctx.lineTo(px, ys.bottom - 6);
      });
      ctx.stroke();
    });
    ctx.fillStyle = '#000';
    ctx.font = 'bold 36px ' + FONT;
    ctx.textAlign = 'center';
    ctx.textBaseline = 'middle';
    ctx.fillText(X_LABEL, area.left + (area.right - area.left) * 0.448, area.bottom + 68);
    ctx.restore();
  }
};

new Chart(document.getElementById('seis'), {
  type: 'line',
  data: { datasets: datasets },
  options: {
    responsive: false,
    devicePixelRatio: 1,
    animation: false,
    parsing: false,
    normalized: true,
    layout: { padding: { left: 0, right: 33, top: 0, bottom: 0 } },
    scales: scales,
    plugins: {
      legend: { display: false },
      tooltip: { enabled: false },
      title: {
        display: true, text: TITLE, fullSize: false,
        font: { size: 37, weight: 'bold' }, color: '#000',
        padding: { top: 59, bottom: 5 }
      }
    }
  },
  plugins: [panelFrame]
});
</script>
</body>
</html>
